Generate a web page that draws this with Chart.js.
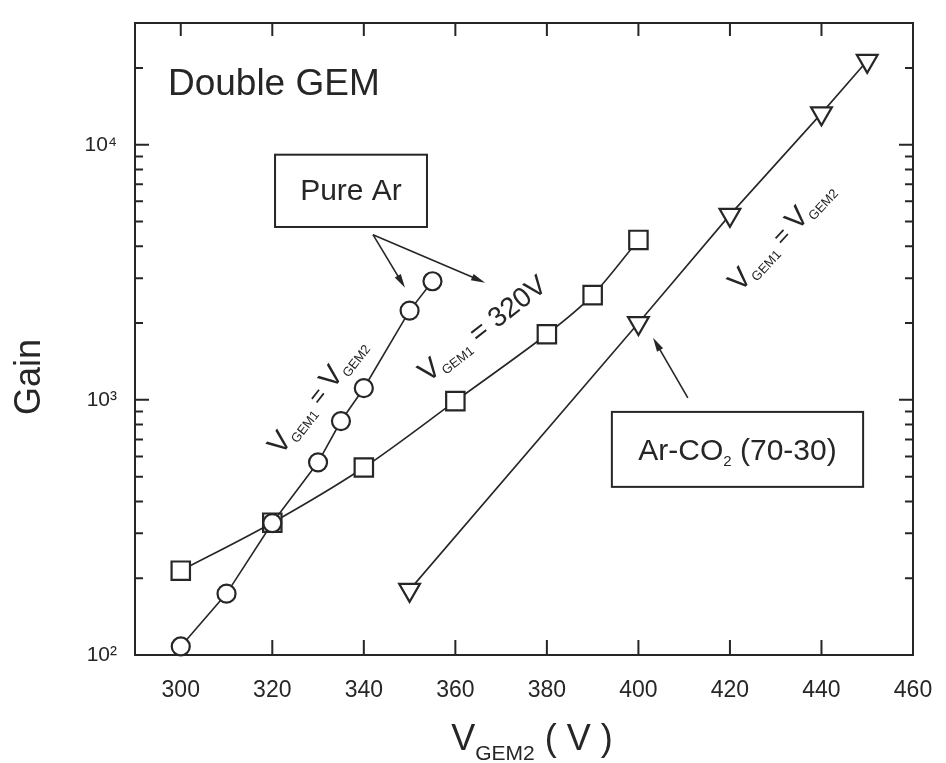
<!DOCTYPE html>
<html>
<head>
<meta charset="utf-8">
<script src="https://cdn.jsdelivr.net/npm/chart.js@4.4.1/dist/chart.umd.min.js"></script>
<style>
  html, body { margin: 0; padding: 0; background: #fff; }
  #wrap { width: 946px; height: 763px; }
</style>
</head>
<body>
<div id="wrap"><canvas id="gainChart" width="946" height="763"></canvas></div>
<script>
//pure Ar, V_GEM1 = V_GEM2 (circles)
const arEqualV = [300, 310, 320, 330, 335, 340, 350, 355];
const arEqualGain = [108, 174, 329, 569, 826, 1111, 2238, 2917];

//pure Ar, V_GEM1 = 320 V (squares)
const ar320V = [300, 320, 340, 360, 380, 390, 400];
const ar320Gain = [214, 330, 543, 989, 1808, 2573, 4235];

//Ar-CO2 (70-30), V_GEM1 = V_GEM2 (triangles)
const co2EqualV = [350, 400, 420, 440, 450];
const co2EqualGain = [180, 2000, 5310, 13270, 21320];

//axis ticks
const xTicks = [300, 320, 340, 360, 380, 400, 420, 440, 460];
const yTicks = [100, 1000, 10000];
const yTickLabels = ['10\u00B2', '10\u00B3', '10\u2074'];

const ink = '#262626';
const family = '"Liberation Sans", Arial, Helvetica, sans-serif';

//annotation anchors, in data units (volts, gain)
const notes = {
  title: { x: 297.2, y: 15700 },
  pureArBox: { x0: 320.6, x1: 353.8, y0: 4760, y1: 9140 },
  pureArArrows: [[342.0, 4440, 349.0, 2750], [342.0, 4440, 366.5, 2880]],
  co2Box: { x0: 394.2, x1: 449.1, y0: 456, y1: 897 },
  co2Arrow: [410.8, 1018, 403.2, 1750],
  circleLabel: { x: 329.6, y: 1047, angle: 52 },
  squareLabel: { x: 365.8, y: 1914, angle: 38 },
  triangleLabel: { x: 431.0, y: 4436, angle: 47 }
};

function pairs(xs, ys) {
  return xs.map((v, i) => ({ x: v, y: ys[i] }));
}

//draws text made of parts with different sizes / baseline shifts (subscripts)
function drawParts(ctx, parts, x, y, align) {
  let total = 0;
  parts.forEach(p => {
    ctx.font = p.size + 'px ' + family;
    p.w = ctx.measureText(p.t).width;
    total += p.w;
  });
  let cx = align === 'center' ? x - total / 2 : x;
  parts.forEach(p => {
    ctx.font = p.size + 'px ' + family;
    ctx.fillText(p.t, cx, y + (p.dy || 0));
    cx += p.w;
  });
}

function arrow(ctx, x0, y0, x1, y1) {
  const ang = Math.atan2(y1 - y0, x1 - x0);
  const len = 14, half = 3.5;
  ctx.beginPath();
  ctx.moveTo(x0, y0);
  ctx.lineTo(x1 - Math.cos(ang) * len * 0.6, y1 - Math.sin(ang) * len * 0.6);
  ctx.stroke();
  ctx.beginPath();
  ctx.moveTo(x1, y1);
  ctx.lineTo(x1 - Math.cos(ang) * len - Math.sin(ang) * half, y1 - Math.sin(ang) * len + Math.cos(ang) * half);
  ctx.lineTo(x1 - Math.cos(ang) * len + Math.sin(ang) * half, y1 - Math.sin(ang) * len - Math.cos(ang) * half);
  ctx.closePath();
  ctx.fill();
}

//frame plus inward ticks on all four sides
const frameAndTicks = {
  id: 'frameAndTicks',
  beforeDatasetsDraw(chart) {
    const { ctx, chartArea: a, scales: { x, y } } = chart;
    ctx.save();
    ctx.strokeStyle = ink;
    ctx.lineWidth = 2;
    ctx.strokeRect(a.left, a.top, a.right - a.left, a.bottom - a.top);
    ctx.beginPath();
    xTicks.forEach(v => {
      if (v <= x.min || v >= x.max) return;
      const px = x.getPixelForValue(v);
      ctx.moveTo(px, a.bottom); ctx.lineTo(px, a.bottom - 15);
      ctx.moveTo(px, a.top); ctx.lineTo(px, a.top + 13);
    });
    for (let dec = 100; dec <= y.max; dec *= 10) {
      for (let m = 1; m <= 9; m++) {
        const v = dec * m;
        if (v <= y.min || v >= y.max) continue;
        const py = y.getPixelForValue(v);
        const len = m === 1 ? 14 : 8;
        ctx.moveTo(a.left, py); ctx.lineTo(a.left + len, py);
        ctx.moveTo(a.right, py); ctx.lineTo(a.right - len, py);
      }
    }
    ctx.stroke();
    ctx.restore();
  }
};

//labels, boxes, arrows and axis titles
const annotations = {
  id: 'annotations',
  afterDraw(chart) {
    const { ctx, chartArea: a, scales: { x, y } } = chart;
    const px = v => x.getPixelForValue(v);
    const py = v => y.getPixelForValue(v);
    ctx.save();
    ctx.fillStyle = ink;
    ctx.strokeStyle = ink;
    ctx.textBaseline = 'alphabetic';

    //title in the corner
    ctx.textAlign = 'left';
    ctx.font = '37px ' + family;
    ctx.fillText('Double GEM', px(notes.title.x), py(notes.title.y));

    //Pure Ar box
    const b1 = notes.pureArBox;
    ctx.lineWidth = 2;
    ctx.strokeRect(px(b1.x0), py(b1.y1), px(b1.x1) - px(b1.x0), py(b1.y0) - py(b1.y1));
    ctx.textAlign = 'center';
    ctx.textBaseline = 'middle';
    ctx.font = '30px ' + family;
    ctx.fillText('Pure Ar', (px(b1.x0) + px(b1.x1)) / 2, (py(b1.y0) + py(b1.y1)) / 2 + 1);
    ctx.lineWidth = 1.6;
    notes.pureArArrows.forEach(r => arrow(ctx, px(r[0]), py(r[1]), px(r[2]), py(r[3])));

    //Ar-CO2 box
    const b2 = notes.co2Box;
    ctx.lineWidth = 2;
    ctx.strokeRect(px(b2.x0), py(b2.y1), px(b2.x1) - px(b2.x0), py(b2.y0) - py(b2.y1));
    ctx.textBaseline = 'alphabetic';
    ctx.textAlign = 'left';
    drawParts(ctx, [
      { t: 'Ar-CO', size: 30 },
      { t: '2', size: 15, dy: 6 },
      { t: ' (70-30)', size: 30 }
    ], (px(b2.x0) + px(b2.x1)) / 2, (py(b2.y0) + py(b2.y1)) / 2 + 11, 'center');
    ctx.lineWidth = 1.6;
    const r2 = notes.co2Arrow;
    arrow(ctx, px(r2[0]), py(r2[1]), px(r2[2]), py(r2[3]));

    //labels written along the curves
    const eqParts = () => [
      { t: 'V', size: 29 },
      { t: 'GEM1', size: 13, dy: 5 },
      { t: ' = ', size: 24 },
      { t: 'V', size: 29 },
      { t: 'GEM2', size: 13, dy: 5 }
    ];
    const rotated = (lab, parts) => {
      ctx.save();
      ctx.translate(px(lab.x), py(lab.y));
      ctx.rotate(-lab.angle * Math.PI / 180);
      drawParts(ctx, parts, 0, 10, 'center');
      ctx.restore();
    };
    rotated(notes.circleLabel, eqParts());
    rotated(notes.squareLabel, [
      { t: 'V', size: 29 },
      { t: 'GEM1', size: 13, dy: 5 },
      { t: ' = 320V', size: 28 }
    ]);
    rotated(notes.triangleLabel, eqParts());

    //axis titles
    ctx.save();
    ctx.translate(30, a.top + 354);
    ctx.rotate(-Math.PI / 2);
    ctx.textAlign = 'center';
    ctx.textBaseline = 'middle';
    ctx.font = '36px ' + family;
    ctx.fillText('Gain', 0, 0);
    ctx.restore();

    ctx.textAlign = 'left';
    ctx.textBaseline = 'alphabetic';
    drawParts(ctx, [
      { t: 'V', size: 36 },
      { t: 'GEM2', size: 21, dy: 10 },
      { t: ' ( V )', size: 36 }
    ], (a.left + a.right) / 2 + 8, 750, 'center');
    ctx.restore();
  }
};

const lineStyle = {
  borderColor: ink,
  backgroundColor: '#fff',
  pointBorderColor: ink,
  pointBackgroundColor: '#fff',
  borderWidth: 1.6,
  pointBorderWidth: 2.2,
  clip: false
};

const gainConfig = {
  type: 'line',
  data: {
    datasets: [{
      ...lineStyle,
      label: 'Pure Ar, VGEM1 = VGEM2',
      data: pairs(arEqualV, arEqualGain),
      pointStyle: 'circle',
      pointRadius: 9,
      tension: 0
    },
    {
      ...lineStyle,
      label: 'Pure Ar, VGEM1 = 320V',
      data: pairs(ar320V, ar320Gain),
      pointStyle: 'rect',
      pointRadius: 13,
      tension: 0.3
    },
    {
      ...lineStyle,
      label: 'Ar-CO2 (70-30), VGEM1 = VGEM2',
      data: pairs(co2EqualV, co2EqualGain),
      pointStyle: 'triangle',
      pointRotation: 180,
      pointRadius: 12,
      tension: 0
    }]
  },
  options: {
    responsive: false,
    animation: false,
    layout: { padding: { top: 23, right: 33, left: 0, bottom: 0 } },
    plugins: {
      legend: { display: false },
      tooltip: { enabled: false }
    },
    scales: {
      x: {
        type: 'linear',
        min: 290,
        max: 460,
        afterBuildTicks: s => { s.ticks = xTicks.map(v => ({ value: v })); },
        afterFit: s => { s.height = 108; s.paddingLeft = 0; s.paddingRight = 0; },
        grid: { display: false, drawTicks: false },
        border: { display: false },
        ticks: {
          autoSkip: false,
          maxRotation: 0,
          padding: 22,
          color: ink,
          font: { family: family, size: 23 }
        }
      },
      y: {
        type: 'logarithmic',
        min: 100,
        max: 30000,
        afterBuildTicks: s => { s.ticks = yTicks.map(v => ({ value: v })); },
        afterFit: s => { s.width = 135; s.paddingTop = 0; s.paddingBottom = 0; },
        grid: { display: false, drawTicks: false },
        border: { display: false },
        ticks: {
          autoSkip: false,
          padding: 18,
          color: ink,
          font: { family: family, size: 21 },
          callback: (v, i) => yTickLabels[i]
        }
      }
    }
  },
  plugins: [frameAndTicks, annotations]
};

window.onload = function() {
  const ctx = document.getElementById('gainChart').getContext('2d');
  window.gainChart = new Chart(ctx, gainConfig);
};
</script>
</body>
</html>
